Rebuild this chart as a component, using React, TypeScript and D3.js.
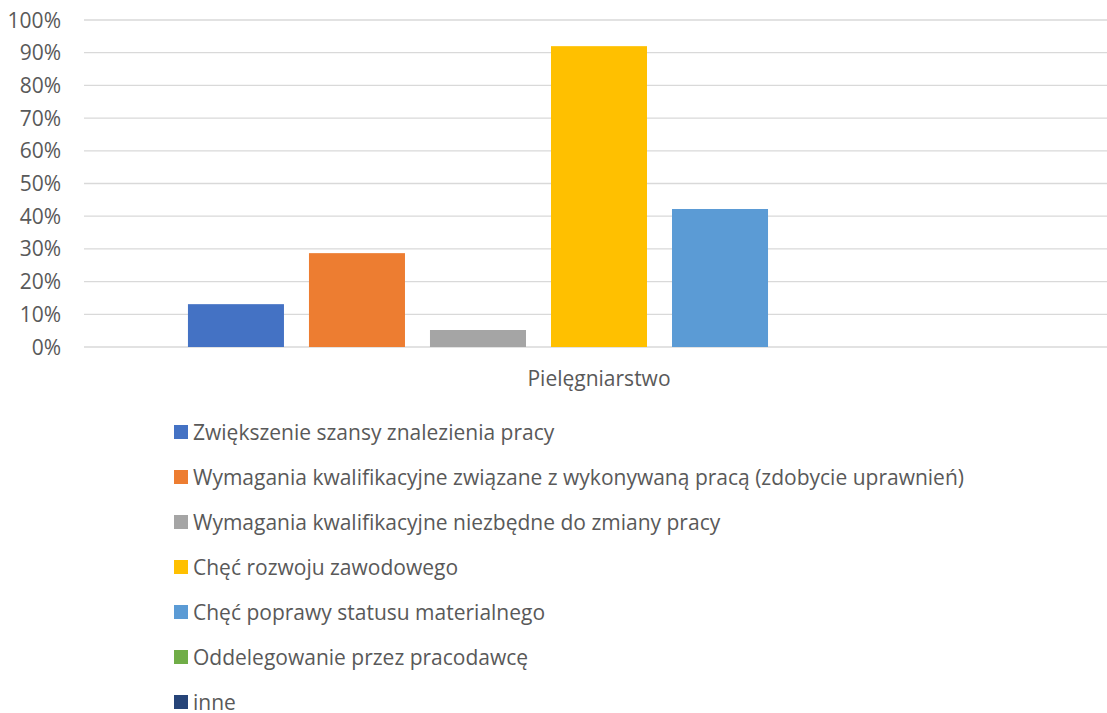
import React from "react";
import * as d3 from "d3";

const categories = ["Pielęgniarstwo"];
const seriesNames = [
  "Zwiększenie szansy znalezienia pracy",
  "Wymagania kwalifikacyjne związane z wykonywaną pracą (zdobycie uprawnień)",
  "Wymagania kwalifikacyjne niezbędne do zmiany pracy",
  "Chęć rozwoju zawodowego",
  "Chęć poprawy statusu materialnego",
  "Oddelegowanie przez pracodawcę",
  "inne",
];
const seriesValues = [0.131, 0.287, 0.052, 0.92, 0.422, 0, 0];
const seriesColors = ["#4472C4", "#ED7D31", "#A5A5A5", "#FFC000", "#5B9BD5", "#70AD47", "#264478"];
const yTicks = [0, 0.1, 0.2, 0.3, 0.4, 0.5, 0.6, 0.7, 0.8, 0.9, 1.0];

const W = 1107;
const H = 713;
const FONT = "'Open Sans', 'DejaVu Sans', sans-serif";

export default function App() {
  const y = d3.scaleLinear().domain([0, 1]).range([347, 20]);
  const x0 = d3.scaleBand<string>().domain(categories).range([84, 1114]);
  const x1 = d3
    .scaleBand<string>()
    .domain(seriesNames)
    .range([0, x0.bandwidth()])
    .paddingInner(25 / 121)
    .paddingOuter(0.859);
  const fmt = d3.format(".0%");

  return (
    <svg
      width={W}
      height={H}
      style={{ position: "absolute", left: 0, top: 0, background: "#fff" }}
      fontFamily={FONT}
    >
      {yTicks.map((t) => (
        <g key={t}>
          <line x1={84} x2={W} y1={y(t)} y2={y(t)} stroke="#d9d9d9" strokeWidth={1.3} />
          <text
            x={61}
            y={y(t)}
            dy="0.36em"
            textAnchor="end"
            fontSize={21}
            fill="#595959"
          >
            {fmt(t)}
          </text>
        </g>
      ))}
      {categories.map((c) => (
        <g key={c} transform={`translate(${x0(c)},0)`}>
          {seriesNames.map((s, i) => (
            <rect
              key={s}
              x={x1(s)}
              width={x1.bandwidth()}
              y={y(seriesValues[i])}
              height={y(0) - y(seriesValues[i])}
              fill={seriesColors[i]}
            />
          ))}
          <text
            x={x0.bandwidth() / 2}
            y={386}
            textAnchor="middle"
            fontSize={21}
            fill="#595959"
          >
            {c}
          </text>
        </g>
      ))}
      {seriesNames.map((s, i) => (
        <g key={s} transform={`translate(174,${432 + i * 45})`}>
          <rect x={0} y={-7} width={14} height={14} fill={seriesColors[i]} />
          <text x={19} y={0} dy="0.36em" fontSize={21} fill="#595959">
            {s}
          </text>
        </g>
      ))}
    </svg>
  );
}
